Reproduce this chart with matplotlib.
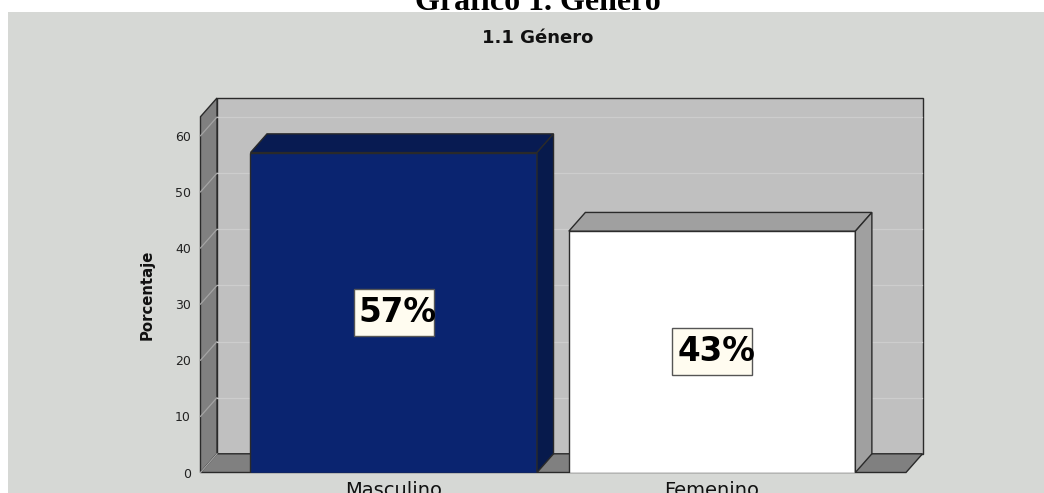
import matplotlib
matplotlib.use('Agg')
import matplotlib.pyplot as plt
from matplotlib.patches import Polygon, Rectangle
from matplotlib.lines import Line2D
from matplotlib import transforms

# ---- data ----
categories = ['Masculino', 'Femenino']
values = [57, 43]
value_labels = ['57%', '43%']
yticks = [0, 10, 20, 30, 40, 50, 60]
title = 'Gráfico 1. Género'
subtitle = '1.1 Género'
ylabel = 'Porcentaje'

# ---- styling ----
W, H = 1044, 493
bg = '#d6d8d5'
wall_back = '#c0c0c0'
wall_side = '#808080'
grid_back = '#cdcdcd'
grid_side = '#a4a4a4'
edge = '#2a2a2a'
bar_front = ['#0a2470', '#ffffff']
bar_top = ['#081b52', '#a0a0a0']
bar_side = ['#071a4c', '#a0a0a0']
bar_width = 0.9
ymax = 63.39

fig = plt.figure(figsize=(W / 100, H / 100), dpi=100)
fig.patch.set_facecolor('white')
fig.add_artist(Rectangle((8 / W, 0), 1 - 8 / W, (H - 12) / H, transform=fig.transFigure,
                         facecolor=bg, edgecolor='none', zorder=0))

ax = fig.add_axes([200.5 / W, 20.5 / H, (906 - 200.5) / W, (472.5 - 116.7) / H])
ax.set_xlim(-0.607, 1.609)
ax.set_ylim(0, ymax)
ax.patch.set_visible(False)
for s in ax.spines.values():
    s.set_visible(False)

x0, x1 = ax.get_xlim()
# depth offset (pixels) converted into data units
px_x = (906 - 200.5) / (x1 - x0)
px_y = (472.5 - 116.7) / ymax
ddx = 16.5 / px_x
ddy = 18.7 / px_y

# back wall
ax.add_patch(Rectangle((x0 + ddx, ddy), x1 - x0, ymax, facecolor=wall_back,
                       edgecolor=edge, lw=1.0, zorder=1, clip_on=False))
# left wall
ax.add_patch(Polygon([(x0, 0), (x0, ymax), (x0 + ddx, ymax + ddy), (x0 + ddx, ddy)],
                     closed=True, facecolor=wall_side, edgecolor=edge, lw=1.0, zorder=1, clip_on=False))
# floor
ax.add_patch(Polygon([(x0, 0), (x0 + ddx, ddy), (x1 + ddx, ddy), (x1, 0)],
                     closed=True, facecolor=wall_side, edgecolor=edge, lw=1.0, zorder=1, clip_on=False))

# gridlines
for v in yticks:
    if v > 0:
        ax.add_line(Line2D([x0 + ddx, x1 + ddx], [v + ddy, v + ddy], color=grid_back, lw=0.9,
                           zorder=1.5, clip_on=False))
    ax.add_line(Line2D([x0, x0 + ddx], [v, v + ddy], color=grid_side, lw=0.9,
                       zorder=1.5, clip_on=False))

# bars
xs = list(range(len(categories)))
ax.bar(xs, values, width=bar_width, color=bar_front, edgecolor=edge, lw=1.0, zorder=3)
text_tr = transforms.offset_copy(ax.transData, fig=fig, x=4, y=0, units='dots')
for i, v in enumerate(values):
    xl = xs[i] - bar_width / 2
    xr = xs[i] + bar_width / 2
    ax.add_patch(Polygon([(xl, v), (xl + ddx, v + ddy), (xr + ddx, v + ddy), (xr, v)], closed=True,
                         facecolor=bar_top[i], edgecolor=edge, lw=1.0, zorder=3, clip_on=False))
    ax.add_patch(Polygon([(xr, 0), (xr, v), (xr + ddx, v + ddy), (xr + ddx, ddy)], closed=True,
                         facecolor=bar_side[i], edgecolor=edge, lw=1.0, zorder=3, clip_on=False))
    # label box (80 x 47 px) centred on the bar middle
    box_tr = transforms.Affine2D() + transforms.ScaledTranslation(xs[i], v / 2, ax.transData)
    ax.add_patch(Rectangle((-40, -23.5), 80, 47, transform=box_tr, facecolor='#fffcf0',
                           edgecolor='#555555', lw=1.0, zorder=4, clip_on=False))
    ax.text(xs[i], v / 2, value_labels[i], transform=text_tr, ha='center', va='center',
            fontsize=23.5, fontweight='bold', color='black', zorder=5)

# axes ticks & labels
ax.set_yticks(yticks)
ax.set_yticklabels([str(t) for t in yticks])
ax.tick_params(axis='y', length=0, pad=7, labelsize=9, labelcolor='#222222')
ax.set_xticks(xs)
ax.set_xticklabels(categories)
ax.tick_params(axis='x', length=0, pad=6, labelsize=14, labelcolor='#111111')
ax.set_ylabel(ylabel, fontsize=10.7, fontweight='bold', color='#111111')
ax.yaxis.set_label_coords(-0.0645, 0.5)

fig.text(538 / W, (H - 10) / H, title, ha='center', va='baseline', fontsize=23,
         fontweight='bold', family='Liberation Serif', color='black')
fig.text(538 / W, (H - 43) / H, subtitle, ha='center', va='baseline', fontsize=13,
         fontweight='bold', color='#111111')

fig.savefig('out.png', dpi=100, facecolor=fig.get_facecolor())
